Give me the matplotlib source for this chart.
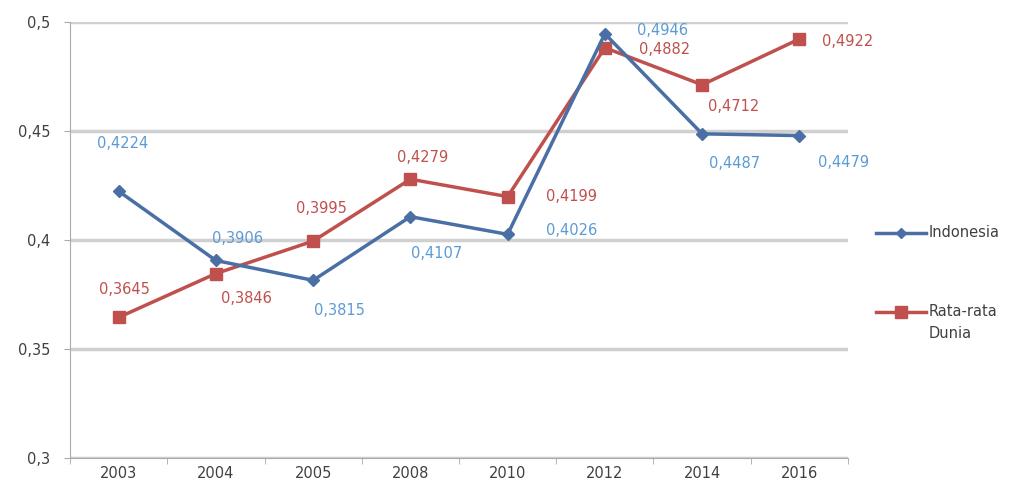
import matplotlib
matplotlib.use("Agg")
import matplotlib.pyplot as plt
from matplotlib.lines import Line2D

plt.rcParams['font.family'] = ['DejaVu Sans']

years = ['2003', '2004', '2005', '2008', '2010', '2012', '2014', '2016']
indonesia = [0.4224, 0.3906, 0.3815, 0.4107, 0.4026, 0.4946, 0.4487, 0.4479]
dunia = [0.3645, 0.3846, 0.3995, 0.4279, 0.4199, 0.4882, 0.4712, 0.4922]
legend_labels = ['Indonesia', 'Rata-rata\nDunia']

# label offsets in pixels (dx, dy) from each point
indo_offsets = [(4, 48), (22, 22), (26, -30), (26, -37), (64, 4), (58, 3), (32, -30), (44, -27)]
dunia_offsets = [(6, 28), (31, -25), (8, 33), (12, 22), (64, 0), (60, -2), (32, -22), (48, -2)]

blue_line = '#4a6fa5'
blue_text = '#5b9bd5'
red_line = '#c0504d'
red_text = '#c0504d'
grey_text = '#404040'

fig = plt.figure(figsize=(10.19, 4.90), dpi=100)
W, H = 1019, 490
ax = fig.add_axes([70 / W, 1 - 458 / H, 778 / W, 436 / H])

x = list(range(len(years)))
ax.plot(x, indonesia, color=blue_line, lw=2.5, marker='D', ms=6, zorder=3)
ax.plot(x, dunia, color=red_line, lw=2.5, marker='s', ms=9, zorder=2)

def fmt(v):
    return f'{v:.4f}'.replace('.', ',')

for xi, v, off in zip(x, indonesia, indo_offsets):
    ax.annotate(fmt(v), (xi, v), xytext=off, textcoords='offset pixels',
                ha='center', va='center', color=blue_text, fontsize=10.5)
for xi, v, off in zip(x, dunia, dunia_offsets):
    ax.annotate(fmt(v), (xi, v), xytext=off, textcoords='offset pixels',
                ha='center', va='center', color=red_text, fontsize=10.5)

ax.set_xlim(-0.5, len(years) - 0.5)
ax.set_ylim(0.3, 0.5)
ax.set_yticks([0.3, 0.35, 0.4, 0.45, 0.5])
ax.set_yticklabels(['0,3', '0,35', '0,4', '0,45', '0,5'])
ax.set_xticks(x)
ax.set_xticklabels(years)
ax.set_xticks([i + 0.5 for i in range(-1, len(years))], minor=True)
ax.tick_params(axis='x', which='major', length=0, pad=6, labelsize=10.5, colors=grey_text)
ax.tick_params(axis='x', which='minor', length=4, color='#aaaaaa')
ax.tick_params(axis='y', length=4, color='#aaaaaa', labelsize=10.5, labelcolor=grey_text, pad=10)

ax.grid(axis='y', color='#d0d0d0', lw=2.5)
ax.set_axisbelow(True)
for s in ['top', 'right']:
    ax.spines[s].set_visible(False)
ax.spines['left'].set_color('#aaaaaa')
ax.spines['bottom'].set_color('#aaaaaa')

# legend drawn by hand at the right
legend_y = [233, 312]
legend_style = [(blue_line, 'D', 5), (red_line, 's', 8)]
for y, (c, m, ms), lab in zip(legend_y, legend_style, legend_labels):
    fig.add_artist(Line2D([876 / W, 926 / W], [1 - y / H] * 2, color=c, lw=2.5,
                          transform=fig.transFigure))
    fig.add_artist(Line2D([901 / W], [1 - y / H], color=c, marker=m, ms=ms,
                          transform=fig.transFigure))
    fig.text(929 / W, 1 - (y - 8) / H, lab, ha='left', va='top',
             fontsize=10.5, color=grey_text, linespacing=1.55)

fig.savefig('out.png', dpi=100)
